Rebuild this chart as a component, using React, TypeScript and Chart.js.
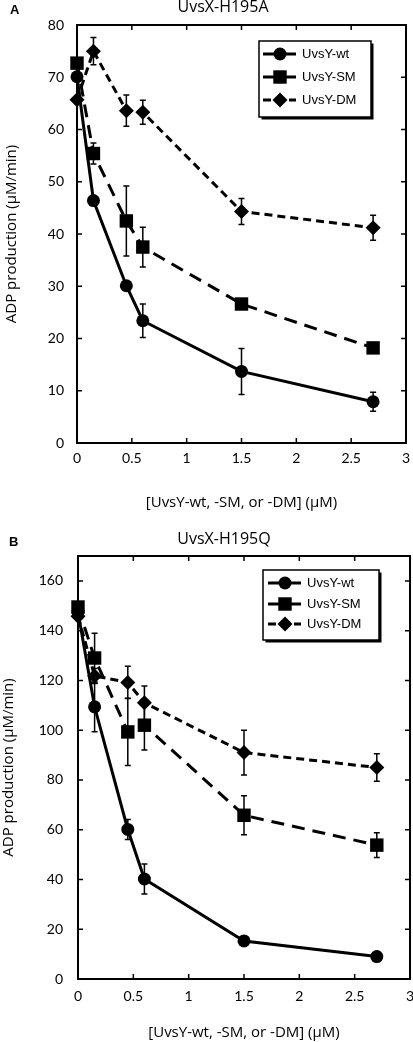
import React, { useEffect, useRef } from 'react';
import { Chart, registerables } from 'chart.js';

Chart.register(...registerables);

// ---------------- data ----------------
const concentrations = [0, 0.15, 0.45, 0.6, 1.5, 2.7];
const seriesNames = ['UvsY-wt', 'UvsY-SM', 'UvsY-DM'];
const xTickStep = 0.5;

const h195aWt = [70.1, 46.4, 30.1, 23.4, 13.7, 7.9];
const h195aWtErr = [0, 0, 0, 3.2, 4.4, 1.8];
const h195aSm = [72.7, 55.4, 42.5, 37.5, 26.6, 18.2];
const h195aSmErr = [0, 2.0, 6.7, 3.8, 1.0, 1.0];
const h195aDm = [65.7, 75.0, 63.6, 63.3, 44.3, 41.2];
const h195aDmErr = [0, 2.6, 3.0, 2.3, 2.5, 2.4];

const h195qWt = [147.5, 109.4, 60.1, 40.2, 15.3, 9.0];
const h195qWtErr = [0, 10, 4, 6, 0, 0];
const h195qSm = [149.5, 129.0, 99.3, 102.0, 65.8, 53.8];
const h195qSmErr = [0, 10, 13.5, 10, 7.8, 5];
const h195qDm = [145.8, 121.8, 119.2, 111.0, 91.0, 85.0];
const h195qDmErr = [0, 3, 6.5, 6.8, 9, 5.5];

const panelTitles = ['UvsX-H195A', 'UvsX-H195Q'];
const panelLetters = ['A', 'B'];
const xAxisTitle = '[UvsY-wt, -SM, or -DM] (\u03BCM)';
const yAxisTitle = 'ADP production (\u03BCM/min)';

// ---------------- styles ----------------
const lineDashes = [[], [13, 8], [8, 5]];
const pointStyles = ['circle', 'rect', 'rectRot'];
const pointRadii = [6.5, 9.5, 7.5];
const TICK_FONT = 'Lato';
const TITLE_FONT = '"Open Sans"';

function drawMarker(ctx: CanvasRenderingContext2D, style: string, r: number, x: number, y: number) {
  ctx.beginPath();
  if (style === 'circle') {
    ctx.arc(x, y, r, 0, Math.PI * 2);
  } else if (style === 'rect') {
    const s = r * Math.SQRT1_2;
    ctx.rect(x - s, y - s, 2 * s, 2 * s);
  } else {
    ctx.moveTo(x, y - r);
    ctx.lineTo(x + r, y);
    ctx.lineTo(x, y + r);
    ctx.lineTo(x - r, y);
    ctx.closePath();
  }
  ctx.fillStyle = '#000';
  ctx.fill();
}

const decorPlugin = {
  id: 'decor',
  beforeDatasetsDraw(chart: any) {
    const ctx = chart.ctx;
    const xs = chart.scales.x;
    const ys = chart.scales.y;
    ctx.save();
    ctx.strokeStyle = '#000';
    ctx.lineWidth = 1.5;
    ctx.setLineDash([]);
    chart.data.datasets.forEach((ds: any) => {
      ds.data.forEach((p: any, j: number) => {
        const e = ds.errors[j];
        if (!e) return;
        const px = xs.getPixelForValue(p.x);
        const yt = ys.getPixelForValue(p.y + e);
        const yb = ys.getPixelForValue(p.y - e);
        ctx.beginPath();
        ctx.moveTo(px, yt);
        ctx.lineTo(px, yb);
        ctx.moveTo(px - 3, yt);
        ctx.lineTo(px + 3, yt);
        ctx.moveTo(px - 3, yb);
        ctx.lineTo(px + 3, yb);
        ctx.stroke();
      });
    });
    ctx.restore();
  },
  afterDraw(chart: any, _args: any, opts: any) {
    const ctx = chart.ctx;
    const { left, right, top, bottom } = chart.chartArea;
    const xs = chart.scales.x;
    const ys = chart.scales.y;
    ctx.save();
    ctx.strokeStyle = '#000';
    ctx.setLineDash([]);
    // inward tick marks
    ctx.lineWidth = 1.5;
    ctx.beginPath();
    xs.ticks.forEach((t: any) => {
      const px = xs.getPixelForValue(t.value);
      ctx.moveTo(px, bottom);
      ctx.lineTo(px, bottom - 5);
      ctx.moveTo(px, top);
      ctx.lineTo(px, top + 5);
    });
    ys.ticks.forEach((t: any) => {
      const py = ys.getPixelForValue(t.value);
      ctx.moveTo(left, py);
      ctx.lineTo(left + 5, py);
      ctx.moveTo(right, py);
      ctx.lineTo(right - 5, py);
    });
    ctx.stroke();
    // frame
    ctx.lineWidth = 2;
    ctx.strokeRect(left, top, right - left, bottom - top);

    // title & letter
    ctx.fillStyle = '#000';
    ctx.textBaseline = 'middle';
    ctx.textAlign = 'center';
    ctx.font = `16px ${TITLE_FONT}`;
    ctx.fillText(opts.title, opts.titleX, opts.titleY);
    ctx.textAlign = 'left';
    ctx.font = 'bold 13px "Liberation Sans"';
    ctx.fillText(opts.letter, opts.letterX, opts.letterY);

    // legend
    const lg = opts.legend;
    ctx.fillStyle = '#000';
    ctx.fillRect(lg.x + 2.5, lg.y + 2.5, lg.w, lg.h);
    ctx.fillStyle = '#fff';
    ctx.fillRect(lg.x, lg.y, lg.w, lg.h);
    ctx.lineWidth = 1.5;
    ctx.strokeRect(lg.x, lg.y, lg.w, lg.h);
    chart.data.datasets.forEach((ds: any, i: number) => {
      const ry = lg.rowY[i];
      ctx.beginPath();
      ctx.lineWidth = 3;
      ctx.setLineDash(ds.borderDash || []);
      ctx.moveTo(lg.lineX0, ry);
      ctx.lineTo(lg.lineX1, ry);
      ctx.stroke();
      ctx.setLineDash([]);
      drawMarker(ctx, ds.pointStyle, ds.pointRadius, lg.markerX, ry);
      ctx.fillStyle = '#000';
      ctx.font = '13px "Liberation Sans"';
      ctx.textAlign = 'left';
      ctx.textBaseline = 'middle';
      ctx.fillText(ds.label, lg.textX, ry + 0.5);
    });
    ctx.restore();
  },
};

type PanelProps = {
  idx: number;
  series: number[][];
  errors: number[][];
  yMax: number;
  yStep: number;
  height: number;
  padTop: number;
  padRight: number;
  yWidth: number;
  xHeight: number;
  xTickPad: number;
  yTickPad: number;
  yTitlePad: number;
  xTitlePad: number;
  titleX: number;
  titleY: number;
  letterX: number;
  letterY: number;
  legend: any;
};

function Panel(p: PanelProps) {
  const ref = useRef<HTMLCanvasElement | null>(null);
  useEffect(() => {
    if (!ref.current) return;
    const datasets = p.series.map((vals, i) => ({
      label: seriesNames[i],
      data: vals.map((v, j) => ({ x: concentrations[j], y: v })),
      errors: p.errors[i],
      borderColor: '#000',
      backgroundColor: '#000',
      borderWidth: 3,
      borderDash: lineDashes[i],
      pointStyle: pointStyles[i],
      pointRadius: pointRadii[i],
      pointBackgroundColor: '#000',
      pointBorderColor: '#000',
      pointBorderWidth: 0,
      tension: 0,
      clip: false,
    }));
    const step = p.yStep;
    const chart = new Chart(ref.current, {
      type: 'line',
      data: { datasets: datasets as any },
      options: {
        responsive: false,
        animation: false,
        devicePixelRatio: 1,
        layout: { autoPadding: false, padding: { top: p.padTop, right: p.padRight, left: 0, bottom: 0 } },
        plugins: {
          legend: { display: false },
          title: { display: false },
          tooltip: { enabled: false },
          decor: {
            title: panelTitles[p.idx],
            letter: panelLetters[p.idx],
            titleX: p.titleX,
            titleY: p.titleY,
            letterX: p.letterX,
            letterY: p.letterY,
            legend: p.legend,
          },
        } as any,
        scales: {
          x: {
            type: 'linear',
            min: 0,
            max: 3,
            grid: { display: false, drawTicks: false },
            border: { display: false },
            ticks: {
              stepSize: xTickStep,
              padding: p.xTickPad,
              color: '#000',
              font: { family: TICK_FONT, size: 14 },
              maxRotation: 0,
              callback: (v: any) => String(v),
            },
            title: {
              display: true,
              text: xAxisTitle,
              color: '#000',
              font: { family: TITLE_FONT, size: 15 },
              padding: { top: 0, bottom: p.xTitlePad },
            },
            afterFit: (s: any) => {
              s.height = p.xHeight;
              s.paddingLeft = 0;
              s.paddingRight = 0;
            },
          },
          y: {
            type: 'linear',
            min: 0,
            max: p.yMax,
            grid: { display: false, drawTicks: false },
            border: { display: false },
            ticks: {
              stepSize: step,
              padding: p.yTickPad,
              color: '#000',
              font: { family: TICK_FONT, size: 14 },
              callback: (v: any) => String(v),
            },
            afterBuildTicks: (s: any) => {
              s.ticks = s.ticks.filter(
                (t: any) => Math.abs(t.value / step - Math.round(t.value / step)) < 1e-6
              );
            },
            title: {
              display: true,
              text: yAxisTitle,
              color: '#000',
              font: { family: TITLE_FONT, size: 15 },
              padding: { top: p.yTitlePad, bottom: 0 },
            },
            afterFit: (s: any) => {
              s.width = p.yWidth;
              s.paddingTop = 0;
              s.paddingBottom = 0;
            },
          },
        },
      },
      plugins: [decorPlugin as any],
    });
    return () => chart.destroy();
  }, []);
  return <canvas ref={ref} width={413} height={p.height} style={{ display: 'block' }} />;
}

export default function App() {
  return (
    <div style={{ position: 'absolute', left: 0, top: 0, width: 413, height: 1042, background: '#fff' }}>
      <Panel
        idx={0}
        series={[h195aWt, h195aSm, h195aDm]}
        errors={[h195aWtErr, h195aSmErr, h195aDmErr]}
        yMax={80}
        yStep={10}
        height={515}
        padTop={25}
        padRight={7}
        yWidth={77}
        xHeight={72}
        xTickPad={7}
        yTickPad={13}
        yTitlePad={3}
        xTitlePad={3}
        titleX={223}
        titleY={7}
        letterX={10}
        letterY={10}
        legend={{ x: 259, y: 41, w: 112, h: 76, rowY: [54, 77, 100], lineX0: 263, lineX1: 296, markerX: 280, textX: 302 }}
      />
      <Panel
        idx={1}
        series={[h195qWt, h195qSm, h195qDm]}
        errors={[h195qWtErr, h195qSmErr, h195qDmErr]}
        yMax={170}
        yStep={20}
        height={527}
        padTop={41}
        padRight={3}
        yWidth={78}
        xHeight={63}
        xTickPad={9}
        yTickPad={15}
        yTitlePad={0}
        xTitlePad={0}
        titleX={224}
        titleY={24}
        letterX={9}
        letterY={27}
        legend={{ x: 263, y: 55, w: 116, h: 70, rowY: [68, 89, 109], lineX0: 268, lineX1: 301, markerX: 285, textX: 307 }}
      />
    </div>
  );
}
